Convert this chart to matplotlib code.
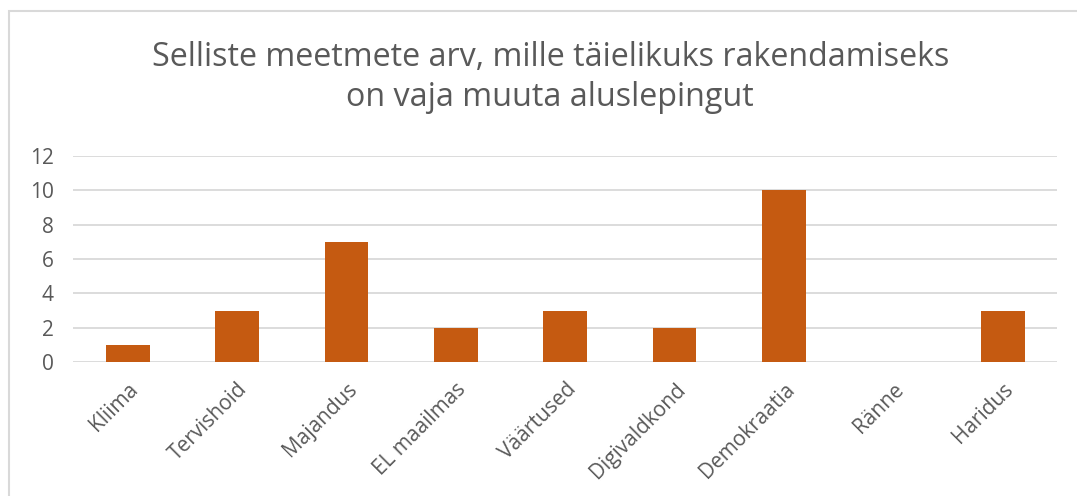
import matplotlib
matplotlib.use("Agg")
import matplotlib.pyplot as plt
from matplotlib.patches import Rectangle

# Andmed
kategooriad = ["Kliima", "Tervishoid", "Majandus", "EL maailmas", "Väärtused",
               "Digivaldkond", "Demokraatia", "Ränne", "Haridus"]
meetmed = [1, 3, 7, 2, 3, 2, 10, 0, 3]
y_tikid = [0, 2, 4, 6, 8, 10, 12]

pealkiri = "Selliste meetmete arv, mille täielikuks rakendamiseks\non vaja muuta aluslepingut"

HALL = "#595959"
JOON = "#D9D9D9"
ORANZ = "#C55A11"

plt.rcParams["font.family"] = ["Open Sans", "DejaVu Sans"]

fig = plt.figure(figsize=(10.77, 4.96), dpi=100)
ax = fig.add_axes([0.0678, 0.270, 0.914, 0.4153])

x = range(len(kategooriad))
ax.bar(x, meetmed, width=0.4, color=ORANZ, zorder=3)

ax.set_xlim(-0.5, len(kategooriad) - 0.5)
ax.set_ylim(0, 12)
ax.set_yticks(y_tikid)
ax.set_xticks(list(x))
ax.set_xticklabels(kategooriad, rotation=45, ha="right", rotation_mode="anchor")
ax.tick_params(axis="both", length=0, labelsize=15, colors=HALL)
ax.tick_params(axis="y", pad=14)
ax.tick_params(axis="x", pad=12)
ax.grid(axis="y", color=JOON, linewidth=1.3, zorder=0)
for s in ax.spines.values():
    s.set_visible(False)

fig.text(0.511, 0.843, pealkiri, ha="center", va="center", fontsize=23.2,
         color=HALL, linespacing=1.27)

# diagrammi raam (paremal ja all kaadrist valjas)
fig.patches.append(Rectangle((0.0084, -0.1), 1.2, 1.078, transform=fig.transFigure,
                             fill=False, edgecolor=JOON, linewidth=1.5))

fig.savefig("out.png", dpi=100)
